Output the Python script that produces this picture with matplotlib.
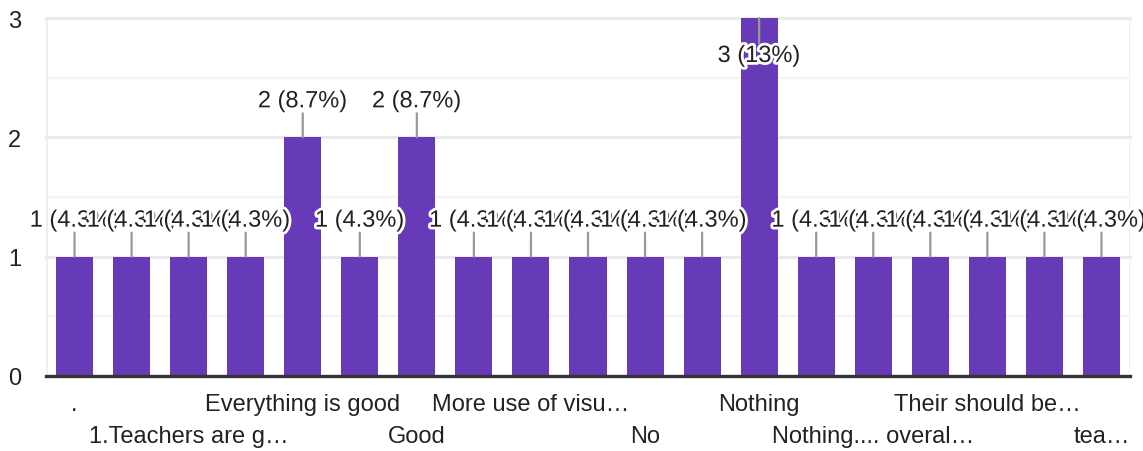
import numpy as np
import matplotlib
matplotlib.use('Agg')
import matplotlib.pyplot as plt
import matplotlib.patheffects as pe

plt.rcParams['font.family'] = ['Liberation Sans', 'DejaVu Sans']

# answers (sorted like the form does); odd ones have no visible label in the picture
categories = ['.', '', '1.Teachers are g\u2026', '', 'Everything is good', '',
              'Good', '', 'More use of visu\u2026', '', 'No', '', 'Nothing', '',
              'Nothing.... overal\u2026', '', 'Their should be\u2026', '', 'tea\u2026']
counts = [1, 1, 1, 1, 2, 1, 2, 1, 1, 1, 1, 1, 3, 1, 1, 1, 1, 1, 1]
y_ticks = [0, 1, 2, 3]

bar_color = '#673ab7'
text_color = '#222222'
total = sum(counts)

fig = plt.figure(figsize=(11.43, 4.52), dpi=100)
ax = fig.add_axes([46 / 1143, 1 - 377 / 452, (1130 - 46) / 1143, (377 - 19) / 452])

x = np.arange(len(counts))
ax.bar(x, counts, width=0.65, color=bar_color, zorder=2)

ax.set_xlim(-0.5, len(counts) - 0.5)
ax.set_ylim(0, 3)

# grid
for v in np.arange(0.5, 3.0, 1.0):
    ax.axhline(v, color='#f4f4f4', lw=1.6, zorder=0)
for v in y_ticks[1:]:
    ax.axhline(v, color='#ebebeb', lw=2.2, zorder=0, clip_on=False)
ax.axhline(0, color='#333333', lw=2.4, zorder=3, clip_on=False)
for s in ['top', 'right', 'bottom', 'left']:
    ax.spines[s].set_visible(False)
ax.axvline(-0.5, color='#eeeeee', lw=2, zorder=0)
ax.axvline(len(counts) - 0.5, color='#eeeeee', lw=2, zorder=0)

ax.set_yticks(y_ticks)
ax.set_yticklabels([str(v) for v in y_ticks], fontsize=17, color=text_color)
ax.tick_params(axis='y', length=0, pad=18)
ax.set_xticks([])

# category labels, every other one on alternating rows
shown = [i for i in range(len(categories)) if i % 2 == 0]
for k, i in enumerate(shown):
    off = -28 if k % 2 == 0 else -60
    ax.annotate(categories[i], (i, 0), xytext=(0, off), textcoords='offset pixels',
                ha='center', va='center', fontsize=17, color=text_color,
                annotation_clip=False)

# value labels with leader lines
halo = [pe.withStroke(linewidth=4, foreground='white')]
for i, c in enumerate(counts):
    pct = c / total * 100
    pct_txt = f'{pct:.0f}%' if pct >= 10 else f'{pct:.1f}%'
    label = f'{c} ({pct_txt})'
    if c < 3:
        y0, y1, ty = 0, 24, 36
    else:
        y0, y1, ty = 0, -25, -38
    ax.annotate('', (i, c), xytext=(0, y1), textcoords='offset pixels',
                arrowprops=dict(arrowstyle='-', color='#999999', lw=1.6,
                                shrinkA=0, shrinkB=0),
                zorder=4, annotation_clip=False)
    ax.annotate(label, (i, c), xytext=(0, ty), textcoords='offset pixels',
                ha='center', va='center', fontsize=17, color=text_color,
                path_effects=halo, zorder=5 + i, annotation_clip=False)

fig.savefig('out.png', dpi=100)
